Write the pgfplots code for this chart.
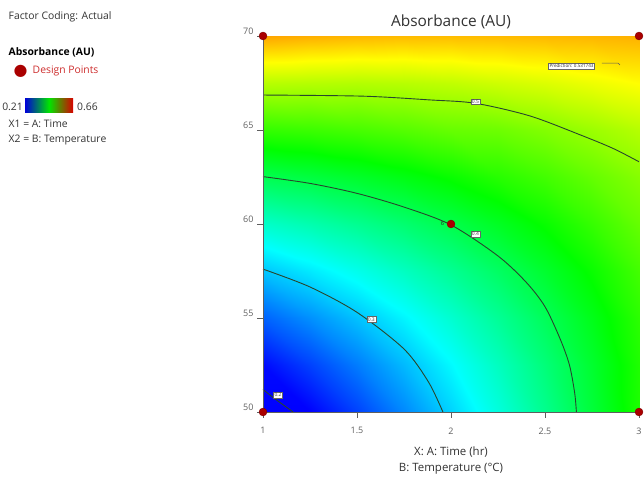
\documentclass[border=0pt]{standalone}
\usepackage{pgfplots}
\pgfplotsset{compat=1.18}
\usepackage{fontspec}
\setmainfont{Open Sans}
\newfontfamily\symfont{DejaVu Sans}
\definecolor{dpred}{RGB}{170,0,0}
\definecolor{dptext}{RGB}{205,45,45}
\definecolor{cline}{RGB}{40,70,45}
\definecolor{txt}{RGB}{50,50,50}
\definecolor{tickc}{RGB}{95,95,95}

\pgfplotstableread{
A B z
1 50 0.1796
1.25 50 0.2085
1.5 50 0.2387
1.75 50 0.2702
2 50 0.3030
2.25 50 0.3372
2.5 50 0.3727
2.75 50 0.4095
3 50 0.4476

1 52.5 0.2140
1.25 52.5 0.2386
1.5 52.5 0.2647
1.75 52.5 0.2920
2 52.5 0.3206
2.25 52.5 0.3506
2.5 52.5 0.3819
2.75 52.5 0.4145
3 52.5 0.4485

1 55 0.2531
1.25 55 0.2736
1.5 55 0.2954
1.75 55 0.3185
2 55 0.3430
2.25 55 0.3688
2.5 55 0.3959
2.75 55 0.4243
3 55 0.4541

1 57.5 0.2970
1.25 57.5 0.3133
1.5 57.5 0.3309
1.75 57.5 0.3498
2 57.5 0.3701
2.25 57.5 0.3917
2.5 57.5 0.4147
2.75 57.5 0.4389
3 57.5 0.4645

1 60 0.3456
1.25 60 0.3577
1.5 60 0.3712
1.75 60 0.3859
2 60 0.4020
2.25 60 0.4194
2.5 60 0.4382
2.75 60 0.4582
3 60 0.4796

1 62.5 0.3990
1.25 62.5 0.4069
1.5 62.5 0.4162
1.75 62.5 0.4267
2 62.5 0.4386
2.25 62.5 0.4518
2.5 62.5 0.4640
2.75 62.5 0.4790
3 62.5 0.4940

1 65 0.4571
1.25 65 0.4608
1.5 65 0.4659
1.75 65 0.4723
2 65 0.4800
2.25 65 0.4830
2.5 65 0.4925
2.75 65 0.5035
3 65 0.5150

1 67.5 0.5160
1.25 67.5 0.5150
1.5 67.5 0.5140
1.75 67.5 0.5160
2 67.5 0.5200
2.25 67.5 0.5260
2.5 67.5 0.5320
2.75 67.5 0.5400
3 67.5 0.5480

1 70 0.5876
1.25 70 0.5830
1.5 70 0.5797
1.75 70 0.5777
2 70 0.5770
2.25 70 0.5777
2.5 70 0.5790
2.75 70 0.5800
3 70 0.5820
}\surface

\begin{document}
\begin{tikzpicture}
\path[use as bounding box] (0,0) rectangle (644bp,477bp);
\begin{axis}[
  at={(263bp,65bp)}, anchor=south west,
  scale only axis, width=376bp, height=376bp,
  xmin=1, xmax=3, ymin=50, ymax=70,
  xtick={1,1.5,2,2.5,3}, ytick={50,55,60,65,70},
  axis lines=left,
  axis line style={-, draw=tickc, line width=0.6bp},
  tick align=outside, major tick length=6bp,
  tick style={draw=tickc, line width=0.6bp},
  ticklabel style={font=\fontsize{9}{10}\selectfont, text=tickc},
  /pgf/number format/assume math mode=true,
  yticklabel style={yshift=5bp},
  xticklabel style={yshift=-6bp},
  clip=false,
  axis on top,
  colormap={de}{rgb255(0cm)=(0,0,255); rgb255(1cm)=(0,255,255); rgb255(2cm)=(0,255,0); rgb255(3cm)=(255,255,0); rgb255(4cm)=(255,0,0)},
  point meta min=0.21, point meta max=0.66,
]
\addplot[surf, shader=interp, mesh/cols=9, point meta=\thisrow{z}] table[x=A, y=B] {\surface};

% contour lines
\addplot[cline, line width=0.9bp, smooth, no marks] coordinates {(1,51.2) (1.04,50.88) (1.08,50.58) (1.12,50.29) (1.16,50)};
\addplot[cline, line width=0.9bp, smooth, no marks] coordinates {(1,57.6) (1.25,56.65) (1.5,55.3) (1.75,53.35) (1.88,51.6) (1.957,50)};
\addplot[cline, line width=0.9bp, smooth, no marks] coordinates {(1,62.52) (1.25,62.16) (1.5,61.63) (1.75,60.9) (2,59.95) (2.25,58.3) (2.4,56.9) (2.5,55.6) (2.58,53.9) (2.63,52.5) (2.658,51.0) (2.667,50)};
\addplot[cline, line width=0.9bp, smooth, no marks] coordinates {(1,66.86) (1.53,66.8) (1.887,66.6) (2.13,66.42) (2.419,65.75) (2.685,64.75) (2.862,64.02) (3,63.31)};

% design points
\addplot[only marks, mark=*, mark size=4bp, color=dpred, mark options={draw=dpred!70!black, line width=0.3bp}] coordinates {(1,50) (1,70) (3,50) (3,70) (2,60)};

% contour labels
\tikzset{clab/.style={draw=gray!80!black, fill=white, inner sep=0.9bp, line width=0.4bp, font=\fontsize{5}{5}\selectfont, text=black!75}}
\node[clab] at (1.08,50.9) {0.2};
\node[clab] at (1.576,54.93) {0.3};
\node[clab] at (2.13,59.47) {0.4};
\node[clab] at (2.13,66.5) {0.5};
\node[font=\fontsize{5.5}{5.5}\selectfont, text=black!85] at (1.955,60.05) {6};
\node[draw=gray!80!black, fill=white, inner sep=0.9bp, line width=0.4bp, font=\fontsize{4.6}{4.6}\selectfont, text=black!80] at (2.641,68.40) {Prediction: 0.531743};
\draw[gray!70!black, line width=0.5bp] (2.803,68.56) -- (2.888,68.56) -- (2.899,68.46);
\end{axis}

% title and axis labels
\node[font=\fontsize{15.5}{17}\selectfont, text=txt] at (451bp,455bp) {Absorbance (AU)};
\node[font=\fontsize{11.5}{13}\selectfont, text=txt] at (451bp,25bp) {X: A: Time (hr)};
\node[font=\fontsize{11.5}{13}\selectfont, text=txt] at (451bp,8bp) {B: Temperature (°C)};

% left info block
\node[anchor=west, inner sep=0, font=\fontsize{10.4}{12}\selectfont, text=txt] at (8.5bp,460bp) {Factor Coding: Actual};
\node[anchor=west, inner sep=0, font=\fontsize{10.4}{12}\selectfont\bfseries, text=black] at (8.5bp,424.3bp) {Absorbance (AU)};
\node[inner sep=0, font=\symfont\fontsize{16}{16}\selectfont, text=dpred] at (20.7bp,406bp) {●};
\node[anchor=west, inner sep=0, font=\fontsize{10.4}{12}\selectfont, text=dptext] at (32.5bp,406bp) {Design Points};
\node[anchor=east, inner sep=0, font=\fontsize{10.4}{12}\selectfont, text=txt] at (23bp,370.3bp) {0.21};
\shade[left color=blue!85!black, right color=red!85!black, middle color=green!90!black] (25bp,364bp) rectangle (73bp,378bp);
\node[anchor=west, inner sep=0, font=\fontsize{10.4}{12}\selectfont, text=txt] at (77bp,370.3bp) {0.66};
\node[anchor=west, inner sep=0, font=\fontsize{10.4}{12}\selectfont, text=txt] at (8.5bp,353.7bp) {X1 = A: Time};
\node[anchor=west, inner sep=0, font=\fontsize{10.4}{12}\selectfont, text=txt] at (8.5bp,337bp) {X2 = B: Temperature};
\end{tikzpicture}
\end{document}
